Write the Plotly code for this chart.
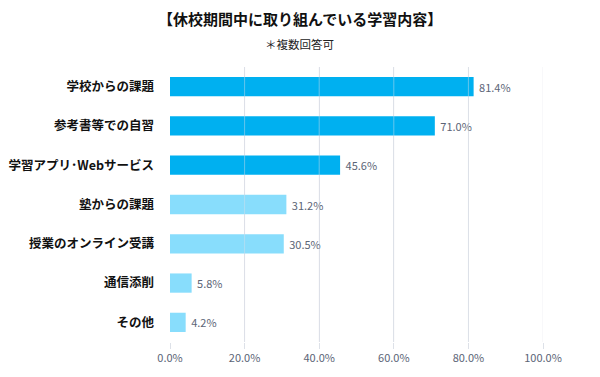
import plotly.graph_objects as go

categories = ["学校からの課題", "参考書等での自習", "学習アプリ・Webサービス", "塾からの課題",
              "授業のオンライン受講", "通信添削", "その他"]
values = [81.4, 71.0, 45.6, 31.2, 30.5, 5.8, 4.2]
colors = ["#00b0f0", "#00b0f0", "#00b0f0", "#88ddfc", "#88ddfc", "#88ddfc", "#88ddfc"]
tick_vals = [0, 20, 40, 60, 80, 100]
tick_text = ["0.0%", "20.0%", "40.0%", "60.0%", "80.0%", "100.0%"]
cat_labels = [c.replace("・", "･") for c in categories]

fig = go.Figure(go.Bar(
    x=values, y=categories, orientation="h",
    marker=dict(color=colors, line=dict(width=0)),
    width=0.49,
    text=[f" {v:.1f}%" for v in values], textposition="outside",
    textfont=dict(family="Noto Sans CJK JP", size=11, color="#5b6476"),
    cliponaxis=False,
))
for tv in tick_vals[1:]:
    fig.add_shape(type="line", xref="x", yref="paper", x0=tv, x1=tv, y0=0, y1=1,
                  line=dict(color="rgba(221,225,232,0.45)", width=1), layer="above")
fig.update_layout(
    width=592, height=369,
    margin=dict(l=162, r=57, t=59, b=35),
    plot_bgcolor="white", paper_bgcolor="white",
    showlegend=False,
    font=dict(family="Noto Sans CJK JP"),
)
fig.add_annotation(text="<b>【休校期間中に取り組んでいる学習内容】</b>", xref="paper", yref="paper",
                   x=0.3485, y=1.176, xanchor="center", yanchor="middle", showarrow=False,
                   font=dict(size=15, color="#111111"))
fig.add_annotation(text="＊複数回答可", xref="paper", yref="paper",
                   x=0.3485, y=1.084, xanchor="center", yanchor="middle", showarrow=False,
                   font=dict(size=11.5, color="#222222"))
fig.update_xaxes(range=[0, 100], tickvals=tick_vals, ticktext=tick_text,
                 showgrid=True, gridcolor="#dde1e8", gridwidth=1, zeroline=False,
                 ticks="outside", ticklen=6, tickcolor="#dde1e8", automargin=False,
                 tickfont=dict(family="Noto Sans CJK JP", size=11, color="#5b6476"))
fig.update_yaxes(autorange="reversed", showgrid=False, ticks="", ticklabelstandoff=15,
                 automargin=False, tickmode="array", tickvals=categories, ticktext=cat_labels,
                 tickfont=dict(family="Noto Sans CJK JP", size=12.5, color="#111111", weight="bold"))
fig.write_html("out.html")
